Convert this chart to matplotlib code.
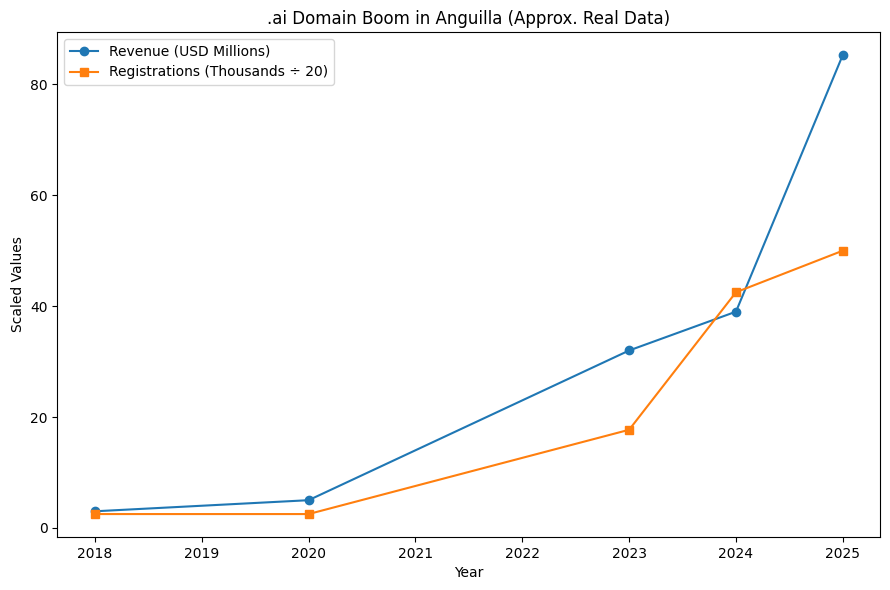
import matplotlib
matplotlib.use("Agg")
import matplotlib.pyplot as plt

years = [2018, 2020, 2023, 2024, 2025]
revenue_musd = [3.0, 5.0, 32.0, 39.0, 85.3]
registrations_k = [50, 50, 354, 850, 1000]

reg_scaled = [r / 20 for r in registrations_k]

fig, ax = plt.subplots(figsize=(8.9, 5.9), dpi=100)
ax.plot(years, revenue_musd, marker="o", label="Revenue (USD Millions)")
ax.plot(years, reg_scaled, marker="s", label="Registrations (Thousands ÷ 20)")
ax.set_title(".ai Domain Boom in Anguilla (Approx. Real Data)")
ax.set_xlabel("Year")
ax.set_ylabel("Scaled Values")
ax.legend(loc="upper left")
fig.subplots_adjust(left=0.0646, right=0.989, top=0.9458, bottom=0.0898)
fig.savefig("out.png")
